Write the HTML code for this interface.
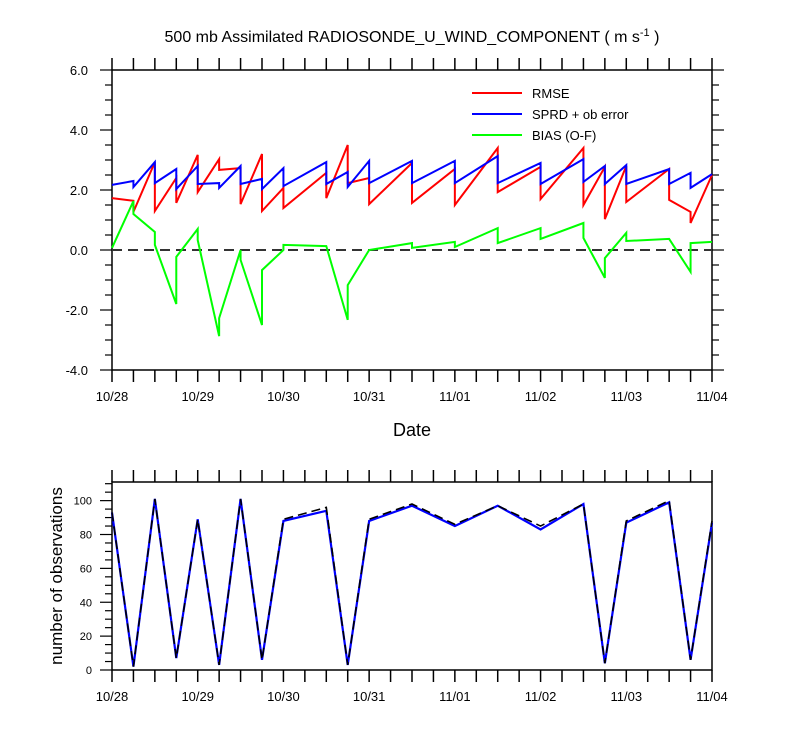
<!DOCTYPE html>
<html><head><meta charset="utf-8"><style>
body{margin:0;background:#fff}
svg text{font-family:"Liberation Sans",sans-serif}
</style></head><body>
<svg id="c" width="800" height="750" xmlns="http://www.w3.org/2000/svg"></svg>
<script>
// segment boundaries in quarter-days since 10/28 00Z
const segTimes=[0,1,2,3,4,5,6,7,8,10,11,12,14,16,18,20,22,23,24,26,27,28];
const rmseStart=[1.73,1.27,1.3,1.57,1.93,2.67,1.53,1.3,1.4,1.73,2.23,1.53,1.57,1.5,1.93,1.7,1.5,1.03,1.6,1.67,0.9];
const rmseEnd=[1.64,2.93,2.4,3.17,3.03,2.73,3.2,2.07,2.57,3.5,2.4,2.9,2.7,3.4,2.77,3.4,2.77,2.8,2.7,1.27,2.5];
const sprdStart=[2.17,2.1,2.23,2.03,2.2,2.07,2.2,2.03,2.13,2.2,2.1,2.23,2.23,2.23,2.23,2.2,2.27,2.2,2.2,2.2,2.07];
const sprdEnd=[2.3,2.93,2.7,2.8,2.23,2.8,2.37,2.73,2.93,2.6,2.97,2.97,2.97,3.13,2.9,3.03,2.8,2.83,2.7,2.57,2.53];
const biasStart=[0.07,1.2,0.17,-0.23,0.33,-2.27,-0.33,-0.67,0.17,0.13,-1.17,0,0.07,0.1,0.23,0.37,0.4,-0.27,0.3,0.37,0.23];
const biasEnd=[1.63,0.6,-1.8,0.7,-2.87,0,-2.5,0,0.13,-2.33,0,0.23,0.27,0.73,0.73,0.9,-0.93,0.57,0.37,-0.73,0.27];
const nobsTimes=[0,1,2,3,4,5,6,7,8,10,11,12,14,16,18,20,22,23,24,26,27,28];
const nobsUsed=[93,2,101,7,89,3,101,6,88,94,3,88,97,85,97,83,98,4,87,99,6,87];
const nobsTotal=[93,2,101,7,89,3,101,6,89,96,3,89,98,86,97,85,98,4,88,100,6,88];
const dateLabels=["10/28","10/29","10/30","10/31","11/01","11/02","11/03","11/04"];
const yTicksTop=[6,4,2,0,-2,-4];
const yTicksBot=[0,20,40,60,80,100];

const NS="http://www.w3.org/2000/svg",svg=document.getElementById('c');
function el(t,a,p){const e=document.createElementNS(NS,t);for(const k in a)e.setAttribute(k,a[k]);(p||svg).appendChild(e);return e;}
const X0=112,X1=712;
const x=q=>X0+(X1-X0)*q/28;
const yT=v=>70+(6-v)*30;
const yB=v=>670-v*(188/111);

function frame(top,bot,name){
  const g=el('g',{});
  
  
  el('rect',{x:X0,y:top,width:X1-X0,height:bot-top,fill:'none',stroke:'#000','stroke-width':1.5},g);
  for(let q=0;q<=28;q++){
    el('line',{x1:x(q),x2:x(q),y1:top,y2:top-12,stroke:'#000','stroke-width':1.5},g);
    el('line',{x1:x(q),x2:x(q),y1:bot,y2:bot+12,stroke:'#000','stroke-width':1.5},g);
  }
  dateLabels.forEach((d,i)=>{const t=el('text',{x:x(i*4),y:bot+31,'text-anchor':'middle','font-size':13},g);t.textContent=d;
    });
  return g;
}
// Title
const ti=el('text',{x:412,y:42,'text-anchor':'middle','font-size':16});

ti.innerHTML='500 mb Assimilated RADIOSONDE_U_WIND_COMPONENT ( m s<tspan dy="-6" font-size="11">-1</tspan><tspan dy="6"> )</tspan>';

// Top panel
const gT=frame(70,370,'top-panel');
for(let v=-4;v<=6.001;v+=0.5){const maj=Math.abs(v-Math.round(v/2)*2)<1e-6;const L=maj?12:7;
  el('line',{x1:X0,x2:X0-L,y1:yT(v),y2:yT(v),stroke:'#000','stroke-width':1.2},gT);
  el('line',{x1:X1,x2:X1+L,y1:yT(v),y2:yT(v),stroke:'#000','stroke-width':1.2},gT);}
yTicksTop.forEach(v=>{const t=el('text',{x:88,y:yT(v)+5,'text-anchor':'end','font-size':13},gT);t.textContent=v.toFixed(1);
  });
const xt=el('text',{x:412,y:436,'text-anchor':'middle','font-size':18});xt.textContent='Date';

const zl=el('line',{x1:X0,x2:X1,y1:yT(0),y2:yT(0),stroke:'#333','stroke-width':2,'stroke-dasharray':'10,6'});

function segSeries(s,e,color,name){
  let d='';
  for(let i=0;i<segTimes.length-1;i++){d+=(i?'L':'M')+x(segTimes[i])+','+yT(s[i])+'L'+x(segTimes[i+1])+','+yT(e[i]);}
  const p=el('path',{d:d,fill:'none',stroke:color,'stroke-width':2,'stroke-linejoin':'miter'});
  
}
segSeries(rmseStart,rmseEnd,'#f00','rmse-line');
segSeries(sprdStart,sprdEnd,'#00f','sprd-line');
segSeries(biasStart,biasEnd,'#0f0','bias-line');
// Legend
[['RMSE','#f00',93],['SPRD + ob error','#00f',114],['BIAS (O-F)','#0f0',135]].forEach(([lab,c,yy])=>{
  const g=el('g',{});
  el('line',{x1:472,x2:522,y1:yy,y2:yy,stroke:c,'stroke-width':2},g);
  const t=el('text',{x:532,y:yy+5,'font-size':13},g);t.textContent=lab;});

// Bottom panel
const gB=frame(482,670,'bottom-panel');
for(let v=0;v<=110;v+=5){const L=v%20===0?12:7;
  el('line',{x1:X0,x2:X0-L,y1:yB(v),y2:yB(v),stroke:'#000','stroke-width':1.2},gB);}
yTicksBot.forEach(v=>{const t=el('text',{x:92,y:yB(v)+4,'text-anchor':'end','font-size':11},gB);t.textContent=v;
  });
const yt=el('text',{x:0,y:0,'text-anchor':'middle','font-size':17,transform:'translate(62,576) rotate(-90)'});
yt.textContent='number of observations';
function line(vals,color,dash,name,w){
  const d=vals.map((v,i)=>(i?'L':'M')+x(nobsTimes[i])+','+yB(v)).join('');
  const a={d:d,fill:'none',stroke:color,'stroke-width':w};if(dash)a['stroke-dasharray']=dash;
  const p=el('path',a);
}
line(nobsUsed,'#00f',null,'nobs-used-line',2.2);
line(nobsTotal,'#000','9,5','nobs-total-line',1.6);
</script></body></html>
